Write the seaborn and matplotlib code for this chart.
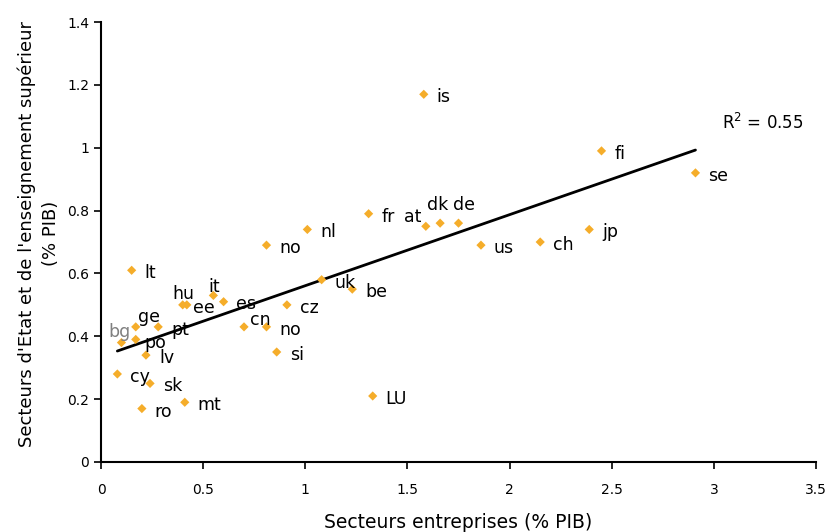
import numpy as np
import pandas as pd
import matplotlib
matplotlib.use('Agg')
import matplotlib.pyplot as plt
import seaborn as sns
from matplotlib.ticker import FuncFormatter

# Données : dépenses de R&D (% PIB)
pays = ['is', 'fi', 'at', 'dk', 'de', 'us', 'ch', 'jp', 'se', 'fr',
        'nl', 'no', 'uk', 'be', 'cz', 'cn', 'no', 'si', 'LU', 'lt',
        'hu', 'ee', 'it', 'es', 'ge', 'pt', 'bg', 'po', 'lv', 'cy',
        'sk', 'mt', 'ro']
entreprises = [1.58, 2.45, 1.59, 1.66, 1.75, 1.86, 2.15, 2.39, 2.91, 1.31,
               1.01, 0.81, 1.08, 1.23, 0.91, 0.70, 0.81, 0.86, 1.33, 0.15,
               0.40, 0.42, 0.55, 0.60, 0.17, 0.28, 0.10, 0.17, 0.22, 0.08,
               0.24, 0.41, 0.20]
etat_sup = [1.17, 0.99, 0.75, 0.76, 0.76, 0.69, 0.70, 0.74, 0.92, 0.79,
            0.74, 0.69, 0.58, 0.55, 0.50, 0.43, 0.43, 0.35, 0.21, 0.61,
            0.50, 0.50, 0.53, 0.51, 0.43, 0.43, 0.38, 0.39, 0.34, 0.28,
            0.25, 0.19, 0.17]

# droite de tendance (linéaire)
pente = 0.226
ordonnee = 0.335
r2 = 0.55

df = pd.DataFrame({'x': entreprises, 'y': etat_sup, 'pays': pays})

sns.set_style('white')
plt.rcParams['font.family'] = ['DejaVu Sans']
plt.rcParams['text.color'] = 'black'
plt.rcParams['axes.labelcolor'] = 'black'

fig = plt.figure(figsize=(8.28, 5.32), dpi=100)
ax = fig.add_axes([0.122, 0.1316, 0.8635, 0.827])

sns.scatterplot(data=df, x='x', y='y', marker='D', s=22, color='#F5AD2A',
                edgecolor='none', ax=ax, zorder=3)

xs = np.array([df['x'].min(), df['x'].max()])
ax.plot(xs, ordonnee + pente * xs, color='black', lw=2, zorder=2)

# position des étiquettes (en pixels par rapport au point)
decalages = {
    2: (-4, 9, 'right'), 3: (-2, 18, 'center'), 4: (5, 18, 'center'),
    15: (6, 7, 'left'), 20: (1, 11, 'center'), 21: (6, -3, 'left'),
    22: (1, 8, 'center'), 24: (2, 10, 'left'), 26: (-2, 11, 'center'),
    27: (9, -4, 'left'), 23: (12, -2, 'left'),
}
for i, row in df.iterrows():
    dx, dy, ha = decalages.get(i, (13, -3, 'left'))
    couleur = '#808080' if row['pays'] == 'bg' else 'black'
    ax.annotate(row['pays'], (row['x'], row['y']), xytext=(dx, dy),
                textcoords='offset pixels', ha=ha, va='center',
                fontsize=12.5, color=couleur, zorder=4)

ax.text(3.04, 1.078, 'R$^2$ = ' + str(r2), fontsize=12, ha='left', va='center')

ax.set_xlim(0, 3.5)
ax.set_ylim(0, 1.4)
ax.set_xticks(np.arange(0, 3.51, 0.5))
ax.set_yticks(np.arange(0, 1.41, 0.2))
fmt = FuncFormatter(lambda v, p: '{:g}'.format(round(v, 2)))
ax.xaxis.set_major_formatter(fmt)
ax.yaxis.set_major_formatter(fmt)
ax.tick_params(axis='both', direction='out', length=5, width=1.2,
               labelsize=10, colors='black', left=True, bottom=True)
ax.tick_params(axis='x', pad=10)

for s in ['top', 'right']:
    ax.spines[s].set_visible(False)
for s in ['left', 'bottom']:
    ax.spines[s].set_color('black')
    ax.spines[s].set_linewidth(1.5)

ax.set_xlabel('Secteurs entreprises (% PIB)', fontsize=13.5, labelpad=12)
ax.set_ylabel("Secteurs d'Etat et de l'enseignement supérieur\n(% PIB)",
              fontsize=13, linespacing=1.45)
ax.yaxis.set_label_coords(-0.057, 0.519)

fig.savefig('out.png', dpi=100)
